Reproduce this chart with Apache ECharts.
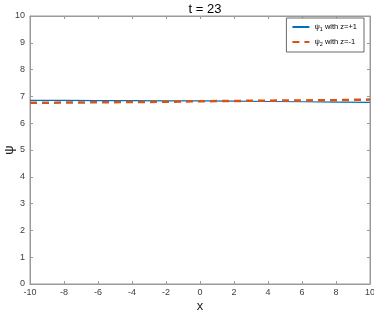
<!DOCTYPE html>
<html><head><meta charset="utf-8">
<script src="https://cdn.jsdelivr.net/npm/echarts@6/dist/echarts.min.js"></script>
<style>html,body{margin:0;padding:0;background:#fff}#c{width:374px;height:313px}</style>
</head><body><div id="c"></div>
<script>
var xValues = [-10, -8, -6, -4, -2, 0, 2, 4, 6, 8, 10];
var psi1 = [6.85, 6.85, 6.84, 6.84, 6.83, 6.83, 6.82, 6.81, 6.80, 6.79, 6.78];
var psi2 = [6.76, 6.77, 6.78, 6.79, 6.80, 6.82, 6.83, 6.84, 6.85, 6.86, 6.88];
var titleText = 't = 23';
var seriesNames = ['psi1', 'psi2'];
var legendLabels = {psi1: '{g|ψ}{s|1}{g| with z=+1}', psi2: '{g|ψ}{s|2}{g| with z=-1}'};

var axisCol = '#9a9a9a';
var labCol = '#404040';
var font = 'Liberation Sans, Arial, sans-serif';
function pairs(ys){ return xValues.map(function(x,i){return [x, ys[i]];}); }
function axLine(){ return {show:true, onZero:false, lineStyle:{color:axisCol}}; }
function axTick(){ return {show:true, inside:true, length:3, lineStyle:{color:axisCol}}; }

var chart = echarts.init(document.getElementById('c'), null, {renderer:'canvas'});
chart.setOption({
  animation:false,
  backgroundColor:'#fff',
  title:{text:titleText, left:200, top:-2, textAlign:'center',
    textStyle:{fontFamily:font, fontSize:13, fontWeight:'normal', color:'#000'}},
  grid:{left:30, right:4, top:16, bottom:29, show:true, borderColor:axisCol, borderWidth:1,
    containLabel:false, outerBoundsMode:'none'},
  legend:{
    right:10, top:18, orient:'vertical', itemWidth:17, itemHeight:10, itemGap:6,
    padding:[5,7,5,5], borderColor:'#444', borderWidth:0.8, backgroundColor:'#fff',
    data:seriesNames,
    itemStyle:{opacity:0},
    formatter:function(n){return legendLabels[n];},
    textStyle:{fontFamily:font, fontSize:7.5, color:'#000',
      rich:{g:{fontSize:7.5, fontFamily:font, color:'#000'}, s:{fontSize:5.5, fontFamily:font, color:'#000', padding:[4,0,0,0]}}}
  },
  xAxis:[{type:'value', min:-10, max:10, interval:2, position:'bottom',
    name:'x', nameLocation:'middle', nameGap:16, nameMoveOverlap:false,
    nameTextStyle:{fontFamily:font, fontSize:13, color:'#222'},
    axisLine:axLine(), axisTick:axTick(),
    axisLabel:{fontFamily:font, fontSize:9, color:labCol, margin:4},
    splitLine:{show:false}},
   {type:'value', min:-10, max:10, interval:2, position:'top',
    axisLine:axLine(), axisTick:axTick(),
    axisLabel:{show:false}, splitLine:{show:false}}],
  yAxis:[{type:'value', min:0, max:10, interval:1, position:'left',
    name:'ψ', nameLocation:'middle', nameGap:14, nameRotate:90, nameMoveOverlap:false,
    nameTextStyle:{fontFamily:font, fontSize:13, color:'#222'},
    axisLine:axLine(), axisTick:axTick(),
    axisLabel:{fontFamily:font, fontSize:9, color:labCol, margin:5},
    splitLine:{show:false}},
   {type:'value', min:0, max:10, interval:1, position:'right',
    axisLine:axLine(), axisTick:axTick(),
    axisLabel:{show:false}, splitLine:{show:false}}],
  series:[
    {name:'psi1', type:'line', data:pairs(psi1), showSymbol:false, symbol:'none',
     color:'#0072BD', lineStyle:{color:'#0072BD', width:1.2}},
    {name:'psi2', type:'line', data:pairs(psi2), showSymbol:false, symbol:'none',
     color:'#D95319', lineStyle:{color:'#D95319', width:2.5, type:[7,5]}}
  ]
});
</script></body></html>
